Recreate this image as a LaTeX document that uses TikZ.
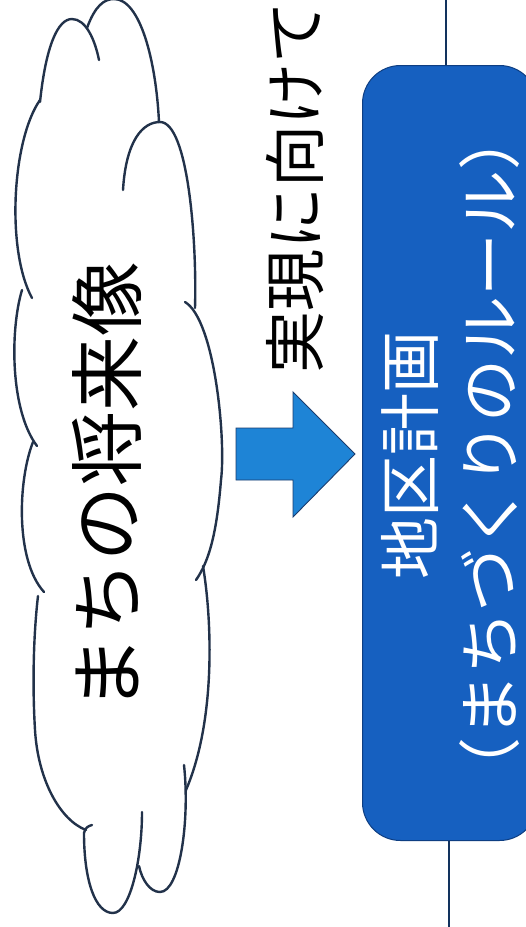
\documentclass[tikz,border=0pt]{standalone}
\usepackage{fontspec}
\newfontfamily\jp{Noto Sans CJK JP}
\definecolor{cloudcol}{HTML}{22324A}
\definecolor{arrowfill}{HTML}{1E84D6}
\definecolor{arrowline}{HTML}{1A3C6E}
\definecolor{planfill}{HTML}{1660C0}
\definecolor{planline}{HTML}{0E3E82}
\definecolor{linkcol}{HTML}{12325E}
\begin{document}
\begin{tikzpicture}[x=1pt,y=-1pt,
  cloudline/.style={line width=2.4pt, draw=cloudcol, line cap=round},
  bigtext/.style={rotate=90, inner sep=0pt, font={\jp\fontsize{75pt}{75pt}\selectfont}},
  midtext/.style={rotate=90, inner sep=0pt, font={\jp\fontsize{62pt}{62pt}\selectfont}},
  planbox/.style={draw=planline, line width=1pt, fill=planfill, rounded corners=38pt,
    minimum width=175pt, minimum height=775pt, inner sep=0pt, anchor=north west},
  blockarrow/.style={fill=arrowfill, draw=arrowline, line width=0.9pt, line join=miter},
  link/.style={draw=linkcol, line width=1.8pt}]
\useasboundingbox (0,0) rectangle (526,927);
\fill[white] (0,0) rectangle (526,927);
\clip (0,0) rectangle (526,927);

% cloud
\draw[cloudline] (40,102) .. controls (46,45) and (58,19) .. (72,19) .. controls (86,19) and (95,40) .. (99,60);
\draw[cloudline] (87,28) .. controls (95,6) and (104,-1) .. (114,-1) .. controls (140,-1) and (156,60) .. (159,122);
\draw[cloudline] (123,190) .. controls (126,140) and (143,122) .. (160,122) .. controls (188,122) and (197,240) .. (195,308);
\draw[cloudline] (185,302) .. controls (215,320) and (226,440) .. (221,480) .. controls (217,530) and (210,560) .. (196,580);
\draw[cloudline] (203,566) .. controls (212,620) and (216,720) .. (186,790);
\draw[cloudline] (184,765) .. controls (190,820) and (180,892) .. (160,892) .. controls (150,892) and (142,880) .. (139,866);
\draw[cloudline] (142,812) .. controls (142,860) and (130,913) .. (113,913) .. controls (95,913) and (84,880) .. (84,833) .. controls (85,828) and (88,826) .. (92,825);
\draw[cloudline] (86,830) .. controls (60,820) and (38,780) .. (35,730) .. controls (32,680) and (34,630) .. (38,596);
\draw[cloudline] (33,442) .. controls (18,480) and (15,560) .. (44,592);
\draw[cloudline] (22,290) .. controls (10,330) and (10,410) .. (37,446);
\draw[cloudline] (40,100) .. controls (12,140) and (6,250) .. (32,298);

\node[bigtext] (vision) at (107,486) {まちの将来像};

% arrow
\draw[blockarrow] (236,428) -- (293,428) -- (293,392) -- (355,454) -- (293,517) -- (293,480) -- (236,480) -- cycle;

\node[midtext] (toward) at (295,187) {実現に向けて};

% plan box
\node[planbox] (plan) at (362,65) {};
\node[midtext, text=white] (plantitle) at (410,455) {地区計画};
\node[midtext, text=white, font={\jp\fontsize{63pt}{63pt}\selectfont}] (plansub) at (490,453.5) {（まちづくりのルール）};

% vertical line
\coordinate (ltop) at (446,0);
\coordinate (lbot) at (449,927);
\draw[link] (ltop) -- (ltop |- plan.north);
\draw[link] (lbot) -- (lbot |- plan.south);
\end{tikzpicture}
\end{document}
